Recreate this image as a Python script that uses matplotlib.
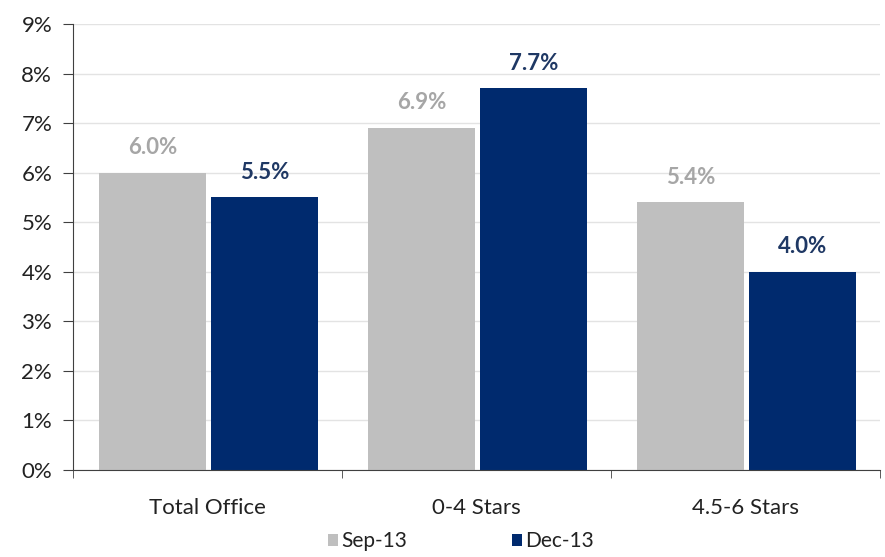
import numpy as np
import matplotlib.pyplot as plt
from matplotlib.ticker import FuncFormatter

categories = ["Total Office", "0-4 Stars", "4.5-6 Stars"]
sep13 = [6.0, 6.9, 5.4]
dec13 = [5.5, 7.7, 4.0]
series_names = ["Sep-13", "Dec-13"]

plt.rcParams["font.family"] = ["Lato", "DejaVu Sans"]

gray = "#BFBFBF"
navy = "#002A6E"

fig = plt.figure(figsize=(8.85, 5.57), dpi=100)
ax = fig.add_axes([73 / 885, 87 / 557, 807 / 885, 446 / 557])

x = np.arange(len(categories))
w = 0.40
b1 = ax.bar(x - 0.205, sep13, w, color=gray, label=series_names[0], zorder=2)
b2 = ax.bar(x + 0.212, dec13, w, color=navy, label=series_names[1], zorder=2)

for rect, v in zip(b1, sep13):
    ax.text(rect.get_x() + rect.get_width() / 2, v + 0.3, f"{v:.1f}%",
            ha="center", va="bottom", color="#A6A6A6", fontsize=16, fontweight="bold")
for rect, v in zip(b2, dec13):
    ax.text(rect.get_x() + rect.get_width() / 2, v + 0.3, f"{v:.1f}%",
            ha="center", va="bottom", color="#1F3864", fontsize=16, fontweight="bold")

ax.set_xlim(-0.5, 2.5)
ax.set_ylim(0, 9)
ax.set_yticks(range(0, 10))
ax.yaxis.set_major_formatter(FuncFormatter(lambda v, p: f"{v:.0f}%"))
ax.grid(axis="y", color="#E3E3E3", linewidth=1, zorder=0)

ax.set_xticks(x)
ax.set_xticklabels(categories, fontsize=16, color="#222222")
ax.tick_params(axis="x", length=0, pad=20)
ax.set_xticks([-0.5, 0.5, 1.5, 2.5], minor=True)
ax.tick_params(axis="x", which="minor", length=6, color="#404040")
ax.tick_params(axis="y", labelsize=16, labelcolor="#222222", length=7, color="#404040", pad=8)

for s in ["top", "right"]:
    ax.spines[s].set_visible(False)
ax.spines["left"].set_color("#404040")
ax.spines["bottom"].set_color("#404040")

fig.legend(handles=[b1, b2], labels=series_names, loc="center",
           bbox_to_anchor=(461 / 885, 1 - 541 / 557), ncol=2, frameon=False,
           fontsize=15, handlelength=0.5, handleheight=0.5, handletextpad=0.15,
           columnspacing=5.0, labelcolor="#222222")

fig.savefig("out.png", dpi=100)
